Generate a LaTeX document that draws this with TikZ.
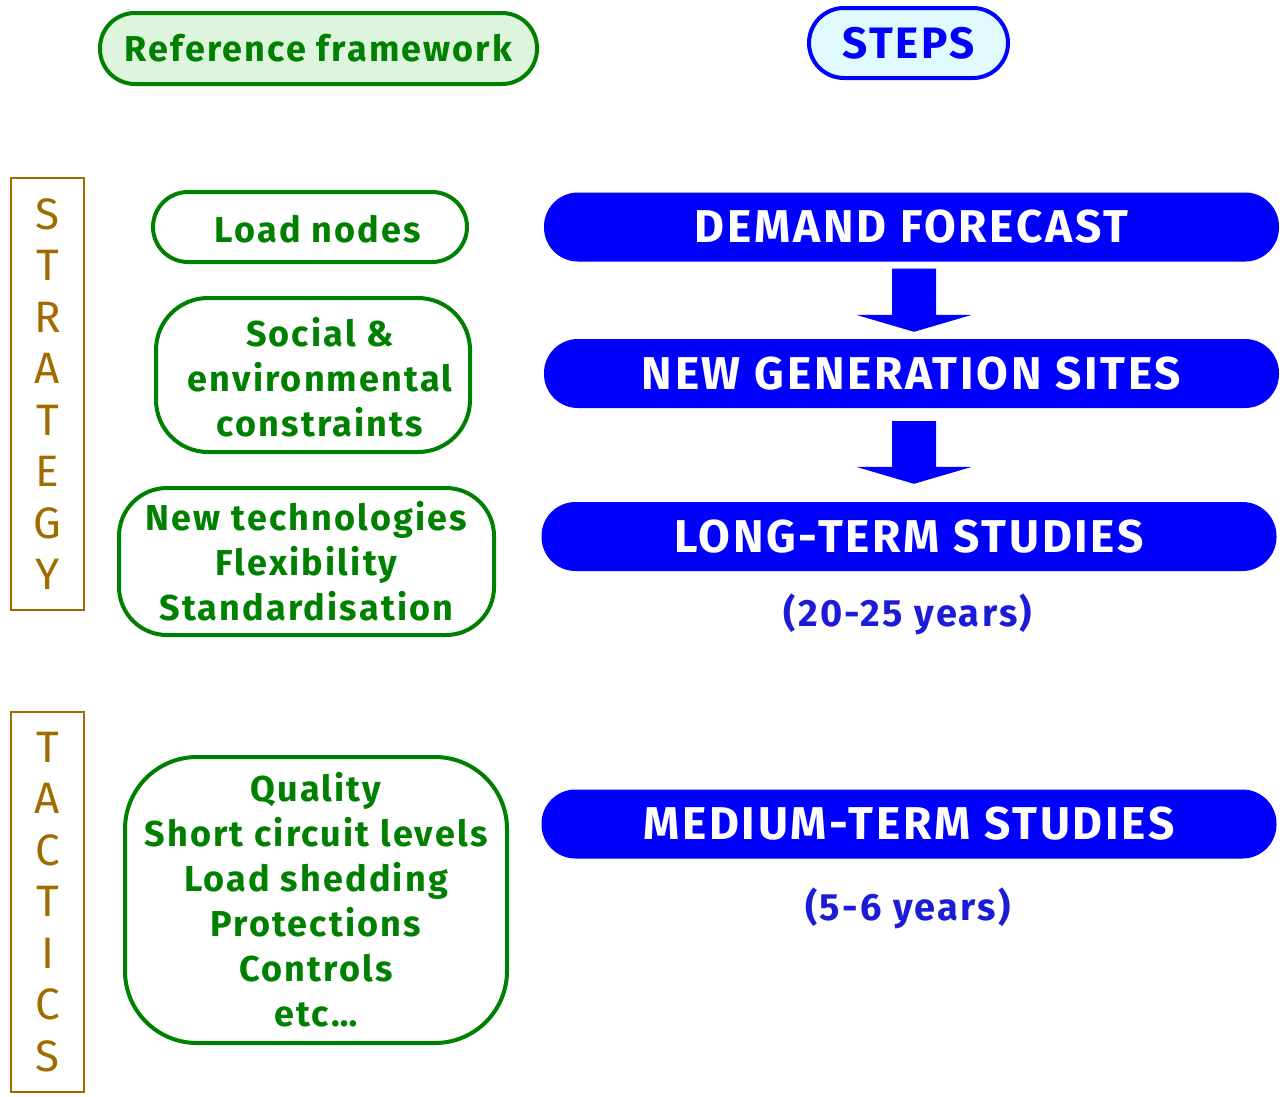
\documentclass[tikz,border=0pt]{standalone}
\usepackage{fontspec}
\setmainfont{Fira Sans}[LetterSpace=6]
\usetikzlibrary{calc}
\definecolor{gr}{HTML}{008000}
\definecolor{grfill}{HTML}{DDF5DD}
\definecolor{bl}{HTML}{0000FF}
\definecolor{cyfill}{HTML}{E0FAFF}
\definecolor{brn}{HTML}{A06C00}
\definecolor{yr}{HTML}{1C1CD8}
\begin{document}
\begin{tikzpicture}[x=1pt,y=-1pt,
  gbox/.style={draw=gr, line width=4pt, rounded corners=#1, text=gr, align=center, inner sep=0pt,
    font=\fontsize{36}{45}\selectfont\bfseries},
  stepbox/.style={fill=bl, rounded corners=34, minimum width=735, minimum height=69, inner sep=0pt,
    text=white, font=\fontsize{46}{50}\selectfont\bfseries},
  sidebox/.style={draw=brn, line width=2pt, minimum width=73, text=brn, align=center, inner sep=0pt,
    font=\fontsize{44}{51.5}\selectfont},
  years/.style={text=yr, font=\fontsize{38}{40}\selectfont\bfseries},
  blockarrow/.style={fill=bl}
]
\useasboundingbox (0,0) rectangle (1283,1096);

% headers
\node[gbox=35, fill=grfill, minimum width=437, minimum height=71, font=\fontsize{36}{40}\selectfont\bfseries]
  (ref) at (318.5,48.5) {Reference framework};
\node[draw=bl, line width=4pt, fill=cyfill, rounded corners=35, minimum width=199, minimum height=70,
  inner sep=0pt, text=bl, font=\fontsize{44}{46}\selectfont\bfseries] (steps) at (908.5,43) {STEPS};

% side boxes
\node[sidebox, minimum height=432] (strat) at (47.5,394) {S\\T\\R\\A\\T\\E\\G\\Y};
\node[sidebox, minimum height=380] (tact) at (47.5,902) {T\\A\\C\\T\\I\\C\\S};

% reference framework boxes
\node[gbox=35, minimum width=314, minimum height=70] (load) at (310,227) {};
\node[text=gr, font=\fontsize{36}{45}\selectfont\bfseries, inner sep=0pt] (loadt) at (318,229) {Load nodes};
\node[gbox=52, minimum width=314, minimum height=154] (social) at (313,375) {};
\node[text=gr, font=\fontsize{36}{45}\selectfont\bfseries, align=center, inner sep=0pt] (socialt) at (320,377)
  {Social \&\\environmental\\constraints};
\node[gbox=48, minimum width=375, minimum height=147] (tech) at (306.5,561.5) {New technologies\\Flexibility\\Standardisation};
\node[gbox=72, minimum width=382, minimum height=286] (qual) at (316,900) {Quality\\Short circuit levels\\Load shedding\\Protections\\Controls\\etc\dots};

% steps
\node[stepbox] (df) at (911.5,227) {DEMAND FORECAST};
\node[stepbox] (ngs) at (911.5,373.5) {NEW GENERATION SITES};
\node[stepbox] (lts) at (909,536.5) {LONG-TERM STUDIES};
\node[stepbox] (mts) at (909,824) {MEDIUM-TERM STUDIES};
\node[years] (y1) at (908,614) {(20-25 years)};
\node[years] (y2) at (908,908) {(5-6 years)};

% block arrows
\coordinate (a1) at ($(df.south)+(2.5,7)$);
\coordinate (b1) at ($(ngs.north)+(2.5,-7)$);
\coordinate (a2) at ($(ngs.south)+(2.5,13)$);
\coordinate (b2) at ($(lts.north)+(5,-18)$);
\foreach \a/\b in {a1/b1, a2/b2}{
  \fill[blockarrow] ($(\a)+(-22,0)$) -- ($(\a)+(22,0)$) -- ($(\b)+(22,-17)$) -- ($(\b)+(58,-17)$)
    -- (\b) -- ($(\b)+(-58,-17)$) -- ($(\b)+(-22,-17)$) -- cycle;
}
\end{tikzpicture}
\end{document}
